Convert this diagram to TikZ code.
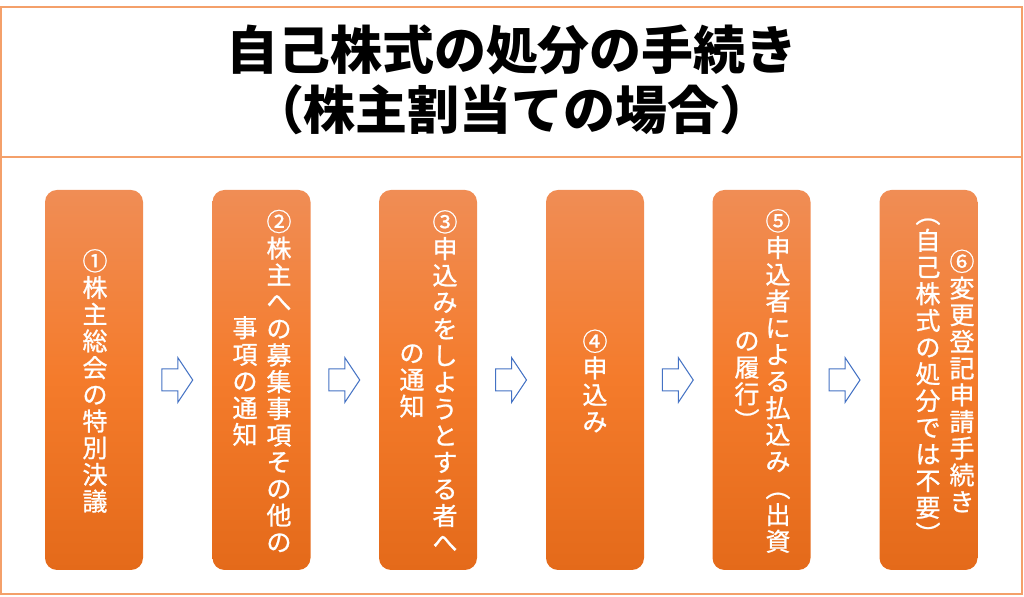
\documentclass[tikz,border=0pt]{standalone}
\usepackage{fontspec}
\newfontfamily\jpfont{Noto Sans CJK JP}
\newfontfamily\jpbox{Noto Sans CJK JP}[FakeBold=0.9]
\usetikzlibrary{calc}
\definecolor{frameorange}{RGB}{244,160,106}
\definecolor{boxtop}{RGB}{240,141,85}
\definecolor{boxmid}{RGB}{244,123,43}
\definecolor{boxbot}{RGB}{228,106,26}
\definecolor{arrowblue}{RGB}{68,114,196}
% vertical (tate) column: one character per line
\newlength\tatepitch
\setlength\tatepitch{13.35pt}
\newcommand\tate[1]{\vbox{\baselineskip=\tatepitch\lineskiplimit=-20pt\tateA#1\relax}}
\def\tateA#1{\ifx\relax#1\else\hbox to 13pt{\hss#1\hss}\expandafter\tateA\fi}
\tikzset{
  stepbox/.style={rounded corners=6pt,minimum width=49pt,minimum height=190pt,
    top color=boxtop,bottom color=boxbot,middle color=boxmid},
  tatetext/.style={inner sep=0pt,text=white,font=\jpbox\fontsize{12.5}{13.35}\selectfont},
  blockarrow/.style={draw=arrowblue,fill=white,line width=0.5pt,line join=miter}
}
\begin{document}
\begin{tikzpicture}[x=0.5pt,y=-0.5pt]
\useasboundingbox(0,0)rectangle(1024,597);
\draw[frameorange,line width=1pt](1,7)rectangle(1022,594);
\draw[frameorange,line width=1pt](1,157)--(1022,157);
\node[font=\jpfont\bfseries\fontsize{26}{30}\selectfont,align=center](title)at(512,80)
  {自己株式の処分の手続き\\（株主割当ての場合）};
\foreach \i/\x in {1/94,2/261.5,3/428,4/595,5/761.5,6/928.5}
  \node[stepbox](b\i)at(\x,380){};
\node[tatetext](t1)at(95,381){\tate{①株主総会の特別決議}};
\node[tatetext](t2a)at(279,381){\tate{②株主への募集事項その他の}};
\node[tatetext](t2b)at(245,381){\tate{事項の通知}};
\node[tatetext](t3a)at(445,381){\tate{③申込みをしようとする者へ}};
\node[tatetext](t3b)at(412,381){\tate{の通知}};
\node[tatetext](t4)at(595,381){\tate{④申込み}};
\node[tatetext](t5a)at(778,381){\tate{⑤申込者による払込み︵出資}};
\node[tatetext](t5b)at(747,381){\tate{の履行︶}};
\node[tatetext](t6a)at(962,381){\tate{⑥変更登記申請手続き}};
\node[tatetext](t6b)at(928,381){\tate{︵自己株式の処分では不要︶}};
\foreach \i in {1,...,5}{
  \pgfmathtruncatemacro{\j}{\i+1}
  \path($(b\i.east)!0.5!(b\j.west)$)coordinate(m\i);
  \draw[blockarrow]($(m\i)+(-16,-11)$)--++(16,0)--++(0,-11.5)--++(15,22.5)
    --++(-15,22.5)--++(0,-11.5)--++(-16,0)--cycle;
}
\end{tikzpicture}
\end{document}
